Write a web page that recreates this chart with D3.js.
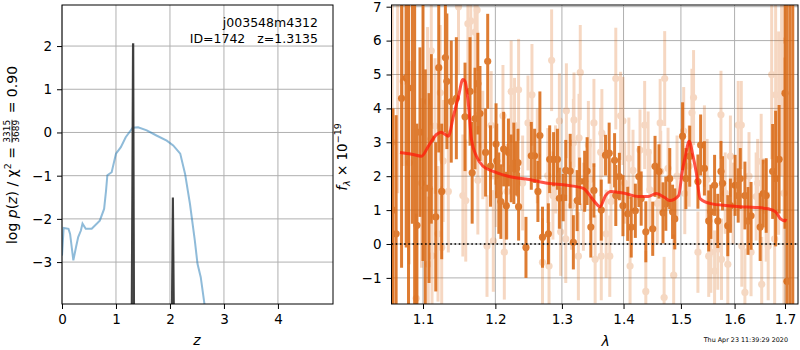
<!DOCTYPE html>
<html>
<head>
<meta charset="utf-8">
<script src="https://cdn.jsdelivr.net/npm/d3@7"></script>
<style>
body { margin: 0; background: #fff; }
text { font-family: "DejaVu Sans", sans-serif; }
</style>
</head>
<body>
<svg id="chart" width="800" height="350"></svg>
<script>
// ---- left panel: chi2 / p(z) ----
const zTicks = [0, 1, 2, 3, 4]
const logpTicks = [-3, -2, -1, 0, 1, 2]
const chiZ = [0.0, 0.03, 0.12, 0.15, 0.21, 0.26, 0.30, 0.35, 0.38, 0.44, 0.55, 0.70, 0.78, 0.815, 0.84, 0.92, 1.0, 1.09, 1.18, 1.31, 1.41, 1.57, 1.75, 1.94, 2.06, 2.19, 2.28, 2.37, 2.46, 2.51, 2.57, 2.64]
const chiLogP = [-2.85, -2.21, -2.23, -2.35, -2.96, -2.65, -2.42, -2.27, -2.11, -2.23, -2.23, -2.04, -1.77, -1.36, -0.99, -0.92, -0.49, -0.34, -0.11, 0.11, 0.12, 0.05, -0.07, -0.19, -0.30, -0.49, -0.96, -1.65, -2.50, -3.04, -3.35, -3.98]
const pzZ = [1.285, 1.310, 1.325, 1.340, 2.028, 2.048, 2.060, 2.080]
const pzLogP = [-4.5, 2.05, 2.05, -4.5, -4.5, -1.52, -1.52, -4.5]
const objName = 'j003548m4312'
const objInfo = 'ID=1742   z=1.3135'

// ---- right panel: spectrum ----
const lamTicks = [1.1, 1.2, 1.3, 1.4, 1.5, 1.6, 1.7]
const fluxTicks = [-1, 0, 1, 2, 3, 4, 5, 6, 7]
// [lambda, flux, err]
const darkPoints = [
  [1.061, 1.0, 3.0], [1.065, 0.3, 3.5], [1.072, 4.3, 5.0], [1.078, 4.9, 5.0], [1.081, 8.0, 10],
  [1.086, 4.6, 4.0], [1.089, 8.0, 10], [1.092, 0.55, 3.0], [1.096, 3.3, 2.5], [1.100, 7.5, 8.0],
  [1.103, 1.65, 3.5], [1.108, 1.65, 2.8], [1.111, 3.1, 2.5], [1.117, 0.8, 2.2], [1.121, 5.2, 2.5],
  [1.125, 1.55, 2.0], [1.130, 5.5, 2.2], [1.132, 4.8, 2.0], [1.138, 4.2, 1.8], [1.145, 4.3, 1.8],
  [1.157, 3.75, 1.6], [1.164, 4.5, 1.6], [1.167, 2.1, 1.5], [1.171, 3.7, 1.5], [1.175, 4.73, 1.5],
  [1.178, 3.85, 1.4], [1.186, 2.7, 1.3], [1.189, 5.39, 1.4], [1.193, 2.3, 1.2], [1.201, 2.95, 1.2],
  [1.202, 2.45, 1.1], [1.205, 1.5, 1.2], [1.208, 1.25, 1.1], [1.212, 2.8, 1.1], [1.216, 1.13, 1.0],
  [1.219, 2.7, 1.0], [1.223, 2.23, 1.0], [1.227, 2.38, 1.2], [1.231, 2.23, 0.8], [1.233, 2.4, 1.0],
  [1.234, 1.1, 1.0], [1.245, -0.1, 0.9], [1.253, 2.6, 1.0], [1.258, 2.6, 0.8], [1.263, 1.55, 0.9],
  [1.266, 3.2, 1.3], [1.270, 0.2, 0.9], [1.279, 0.3, 0.9], [1.281, 2.5, 1.0], [1.287, 2.5, 0.8],
  [1.293, 2.5, 0.9], [1.296, 1.35, 0.9], [1.302, 1.37, 0.7], [1.306, 2.17, 0.9], [1.313, 2.15, 1.1],
  [1.318, 0.05, 0.8], [1.324, 1.28, 0.9], [1.328, 1.85, 0.7], [1.336, 1.85, 0.9], [1.340, 2.15, 1.0],
  [1.346, 0.5, 0.9], [1.351, 1.58, 0.8], [1.363, 1.0, 0.9], [1.370, 2.62, 0.6], [1.376, 2.68, 0.9],
  [1.385, 2.47, 0.8], [1.387, 1.43, 0.9], [1.393, 1.99, 0.7], [1.399, 1.13, 0.9], [1.407, 0.89, 0.8],
  [1.413, 0.5, 0.9], [1.420, 0.98, 0.8], [1.426, 1.99, 0.9], [1.430, 1.34, 0.8], [1.438, 0.36, 0.9],
  [1.450, 0.45, 0.8], [1.454, 2.29, 0.9], [1.461, 2.14, 0.8], [1.468, 0.92, 0.9], [1.473, 1.19, 0.8],
  [1.480, 1.93, 0.9], [1.485, 0.95, 0.8], [1.489, 0.74, 0.9], [1.503, 3.18, 1.0], [1.509, 1.93, 0.9],
  [1.516, 2.59, 0.9], [1.531, 1.84, 0.8], [1.536, 2.92, 0.9], [1.543, 2.23, 0.8], [1.551, 0.68, 0.9],
  [1.555, 0.95, 0.8], [1.562, 1.73, 0.9], [1.568, 0.68, 0.8], [1.574, 2.14, 0.9], [1.577, 1.79, 0.8],
  [1.587, 0.54, 0.9], [1.592, 1.13, 0.8], [1.601, 1.73, 0.9], [1.607, 1.43, 0.8], [1.611, 1.93, 0.9],
  [1.620, 1.43, 1.0], [1.626, 0.68, 1.0], [1.632, 0.83, 1.0], [1.650, 0.5, 1.0], [1.656, 1.49, 1.0],
  [1.662, 1.43, 1.1], [1.675, 2.14, 1.4], [1.681, 1.93, 2.0], [1.688, 2.5, 1.6], [1.700, 4.45, 4.0],
  [1.704, -1.1, 9.0], [1.710, 8.0, 10], [1.716, 8.0, 10]
]
const lightPoints = [
  [1.060, 3.0, 6.0], [1.067, 7.5, 6.0], [1.074, 4.8, 2.5], [1.082, 2.4, 3.0], [1.091, -1.6, 2.5],
  [1.098, 1.8, 2.5], [1.106, 4.2, 2.2], [1.107, -0.6, 2.0], [1.111, 5.7, 2.2], [1.112, -0.35, 2.0],
  [1.116, 3.48, 2.0], [1.120, 0.3, 2.0], [1.123, 4.46, 2.0], [1.125, -0.1, 1.8], [1.127, 2.45, 1.8],
  [1.134, 1.55, 1.8], [1.148, 7.0, 2.0], [1.154, 1.43, 1.8], [1.158, 1.28, 1.8], [1.161, 6.5, 2.0],
  [1.165, 6.58, 2.0], [1.171, 6.25, 1.8], [1.174, 6.9, 1.8], [1.175, 1.88, 1.6], [1.182, 2.92, 1.6],
  [1.188, -0.06, 1.5], [1.194, 3.5, 1.6], [1.197, 0.09, 1.5], [1.200, 2.0, 1.5], [1.211, 3.78, 1.5],
  [1.213, -0.24, 1.4], [1.217, 1.55, 1.4], [1.223, 4.5, 1.5], [1.228, 3.5, 1.4], [1.234, 4.55, 1.5],
  [1.240, 1.8, 1.4], [1.248, 3.57, 1.4], [1.254, 4.4, 1.5], [1.262, 2.6, 1.4], [1.270, -0.54, 1.3],
  [1.278, 2.02, 1.4], [1.280, -0.65, 1.3], [1.284, 5.42, 1.5], [1.286, 1.43, 1.3], [1.290, 2.2, 1.3],
  [1.296, 3.63, 1.4], [1.298, 0.36, 1.3], [1.306, 0.15, 1.3], [1.307, 3.93, 1.4], [1.315, 1.13, 1.3],
  [1.318, 2.98, 1.3], [1.319, 3.66, 1.4], [1.326, -0.36, 1.3], [1.327, 3.13, 1.3], [1.329, 5.06, 1.4],
  [1.334, 1.10, 1.3], [1.342, 2.92, 1.3], [1.345, 1.9, 1.2], [1.351, 3.57, 1.3], [1.353, -0.45, 1.3],
  [1.362, 2.71, 1.3], [1.363, -0.36, 1.3], [1.364, 3.27, 1.3], [1.371, 0.3, 1.3], [1.377, -0.36, 1.2],
  [1.379, 1.25, 1.2], [1.387, 4.88, 1.5], [1.395, 3.78, 1.3], [1.399, 3.63, 1.3], [1.402, 1.8, 1.2],
  [1.409, 2.53, 1.2], [1.411, -0.65, 1.2], [1.416, 2.17, 1.2], [1.428, 2.77, 1.2], [1.436, 3.51, 1.3],
  [1.438, -1.4, 1.2], [1.442, 2.71, 1.2], [1.445, 1.6, 1.2], [1.458, 1.2, 1.2], [1.463, 3.57, 1.3],
  [1.464, 2.14, 1.2], [1.470, -1.58, 1.2], [1.471, 4.88, 1.4], [1.477, 2.23, 1.2], [1.487, -0.92, 1.2],
  [1.493, 2.0, 1.2], [1.505, 3.33, 1.3], [1.507, 1.49, 1.2], [1.515, 2.3, 1.2], [1.520, 3.87, 1.3],
  [1.523, 4.32, 1.4], [1.531, -0.24, 1.2], [1.543, 2.89, 1.2], [1.548, 1.9, 1.2], [1.551, -0.36, 1.2],
  [1.555, -0.24, 1.2], [1.562, -0.8, 1.2], [1.568, -0.15, 1.2], [1.574, 3.81, 1.3], [1.575, -0.45, 1.2],
  [1.582, 1.5, 1.2], [1.587, -0.6, 1.2], [1.592, 2.59, 1.2], [1.597, 1.2, 1.2], [1.607, 3.51, 1.3],
  [1.613, 3.51, 1.3], [1.614, -0.06, 1.2], [1.620, -1.43, 1.3], [1.628, 2.0, 1.3], [1.632, -0.24, 1.3],
  [1.642, 1.4, 1.3], [1.645, 1.8, 1.3], [1.652, 2.44, 1.4], [1.653, -1.19, 1.4], [1.662, 0.98, 1.5],
  [1.666, -0.06, 1.6], [1.673, 5.0, 2.5], [1.679, 0.15, 2.0], [1.681, 4.4, 2.8], [1.687, 3.27, 3.0],
  [1.693, 6.0, 4.0], [1.698, 1.5, 4.0]
]
const modelWave = [1.070, 1.085, 1.098, 1.107, 1.118, 1.124, 1.134, 1.141, 1.148, 1.154, 1.157, 1.162, 1.166, 1.173, 1.182, 1.196, 1.220, 1.250, 1.278, 1.308, 1.334, 1.342, 1.352, 1.361, 1.370, 1.379, 1.403, 1.425, 1.442, 1.456, 1.471, 1.480, 1.496, 1.502, 1.508, 1.515, 1.522, 1.528, 1.535, 1.555, 1.587, 1.611, 1.640, 1.666, 1.681, 1.691, 1.700, 1.702]
const modelFlux = [2.70, 2.65, 2.59, 2.88, 3.23, 3.30, 3.18, 3.77, 4.36, 4.85, 4.80, 4.06, 3.08, 2.59, 2.30, 2.15, 1.99, 1.90, 1.79, 1.73, 1.64, 1.49, 1.25, 1.10, 1.43, 1.55, 1.49, 1.40, 1.40, 1.49, 1.37, 1.28, 1.43, 2.10, 2.59, 3.03, 2.59, 2.10, 1.34, 1.19, 1.13, 1.10, 1.08, 1.04, 0.95, 0.74, 0.68, 0.74]
const timestamp = 'Thu Apr 23 11:39:29 2020'

const ORANGE = '#d9660f'
const GRID = '#b0b0b0'

const svg = d3.select('#chart')

const LP = { left: 62, right: 333, top: 5, bottom: 304 }
const RP = { left: 391.5, right: 798, top: 5, bottom: 304 }

const zx = d3.scaleLinear().domain([0, 5.02]).range([LP.left, LP.right])
const zy = d3.scaleLinear().domain([-3.97, 2.95]).range([LP.bottom, LP.top])
const lx = d3.scaleLog().domain([1.0591, 1.7268]).range([RP.left, RP.right])
const fy = d3.scaleLinear().domain([-1.77, 7.05]).range([RP.bottom, RP.top])

const defs = svg.append('defs')
defs.append('clipPath').attr('id', 'clipL').append('rect')
  .attr('x', LP.left).attr('y', LP.top).attr('width', LP.right - LP.left).attr('height', LP.bottom - LP.top)
defs.append('clipPath').attr('id', 'clipR').append('rect')
  .attr('x', RP.left).attr('y', RP.top).attr('width', RP.right - RP.left).attr('height', RP.bottom - RP.top)

function grid(g, xs, ys, xScale, yScale, P) {
  g.selectAll('.gx').data(xs).enter().append('line')
    .attr('x1', d => xScale(d)).attr('x2', d => xScale(d))
    .attr('y1', P.top).attr('y2', P.bottom)
    .attr('stroke', GRID).attr('stroke-width', 1)
  g.selectAll('.gy').data(ys).enter().append('line')
    .attr('x1', P.left).attr('x2', P.right)
    .attr('y1', d => yScale(d)).attr('y2', d => yScale(d))
    .attr('stroke', GRID).attr('stroke-width', 1)
}

function axes(xs, ys, xScale, yScale, P, xfmt) {
  const xa = svg.append('g').attr('transform', `translate(0,${P.bottom})`)
    .call(d3.axisBottom(xScale).tickValues(xs).tickSize(5).tickPadding(5).tickFormat(xfmt))
  const ya = svg.append('g').attr('transform', `translate(${P.left},0)`)
    .call(d3.axisLeft(yScale).tickValues(ys).tickSize(5).tickPadding(5).tickFormat(d3.format('d')))
  for (const a of [xa, ya]) {
    a.select('.domain').remove()
    a.selectAll('text').attr('font-size', 13.5).attr('fill', '#000').style('font-family', '"DejaVu Sans", sans-serif')
    a.selectAll('line').attr('stroke', '#000')
  }
  svg.append('rect').attr('x', P.left).attr('y', P.top)
    .attr('width', P.right - P.left).attr('height', P.bottom - P.top)
    .attr('fill', 'none').attr('stroke', '#000').attr('stroke-width', 1)
}

// ---- left panel ----
const gL = svg.append('g')
grid(gL, zTicks, logpTicks, zx, zy, LP)
const plotL = gL.append('g').attr('clip-path', 'url(#clipL)')

plotL.append('path')
  .datum(chiZ.map((z, i) => [z, chiLogP[i]]))
  .attr('d', d3.line().x(d => zx(d[0])).y(d => zy(d[1])))
  .attr('fill', 'none').attr('stroke', '#1f77b4').attr('stroke-opacity', 0.5).attr('stroke-width', 2)

plotL.append('path')
  .datum(pzZ.map((z, i) => [z, pzLogP[i]]))
  .attr('d', d3.line().x(d => zx(d[0])).y(d => zy(d[1])))
  .attr('fill', '#333').attr('fill-opacity', 0.85)
  .attr('stroke', '#333').attr('stroke-opacity', 0.9).attr('stroke-width', 1.5)

axes(zTicks, logpTicks, zx, zy, LP, d3.format('d'))

svg.append('text').attr('x', 318).attr('y', 27).attr('text-anchor', 'end')
  .attr('font-size', 12.5).text(objName)
svg.append('text').attr('x', 318).attr('y', 43).attr('text-anchor', 'end')
  .attr('font-size', 12.5).attr('xml:space', 'preserve').style('white-space', 'pre').text(objInfo)

svg.append('text').attr('x', zx(2.5)).attr('y', 345).attr('text-anchor', 'middle')
  .attr('font-size', 14).attr('font-style', 'italic').text('z')

// left y label with stacked fraction
{
  const g = svg.append('g').attr('transform', 'translate(17,155) rotate(-90)')
  const t1 = g.append('text').attr('font-size', 14)
  t1.append('tspan').text('log ')
  t1.append('tspan').attr('font-style', 'italic').text('p')
  t1.append('tspan').text('(')
  t1.append('tspan').attr('font-style', 'italic').text('z')
  t1.append('tspan').text(') / χ')
  t1.append('tspan').attr('font-size', 9.5).attr('dy', -6).text('2')
  t1.append('tspan').attr('dy', 6).attr('xml:space', 'preserve').style('white-space', 'pre').text(' = ')
  const w1 = t1.node().getComputedTextLength()
  const num = g.append('text').attr('font-size', 9).attr('text-anchor', 'middle').text('3315')
  const den = g.append('text').attr('font-size', 9).attr('text-anchor', 'middle').text('3689')
  const fw = Math.max(num.node().getComputedTextLength(), den.node().getComputedTextLength())
  const t3 = g.append('text').attr('font-size', 14).attr('xml:space', 'preserve').style('white-space', 'pre').text(' = 0.90')
  const w3 = t3.node().getComputedTextLength()
  const total = w1 + fw + 2 + w3
  const x0 = -total / 2
  t1.attr('x', x0)
  num.attr('x', x0 + w1 + fw / 2).attr('y', -7)
  den.attr('x', x0 + w1 + fw / 2).attr('y', 2)
  g.append('line').attr('x1', x0 + w1).attr('x2', x0 + w1 + fw)
    .attr('y1', -5).attr('y2', -5).attr('stroke', '#000').attr('stroke-width', 0.8)
  t3.attr('x', x0 + w1 + fw + 2)
}

// ---- right panel ----
const gR = svg.append('g')
grid(gR, lamTicks, fluxTicks, lx, fy, RP)
const plotR = gR.append('g').attr('clip-path', 'url(#clipR)')

function errorbars(data, opacity) {
  const g = plotR.append('g').attr('opacity', opacity)
  g.selectAll('line').data(data).enter().append('line')
    .attr('x1', d => lx(d[0])).attr('x2', d => lx(d[0]))
    .attr('y1', d => fy(d[1] - d[2])).attr('y2', d => fy(d[1] + d[2]))
    .attr('stroke', ORANGE).attr('stroke-width', 3)
  g.selectAll('circle').data(data).enter().append('circle')
    .attr('cx', d => lx(d[0])).attr('cy', d => fy(d[1]))
    .attr('r', 3.6).attr('fill', ORANGE)
}

errorbars(lightPoints, 0.25)
errorbars(darkPoints, 0.85)

plotR.append('line')
  .attr('x1', RP.left).attr('x2', RP.right).attr('y1', fy(0)).attr('y2', fy(0))
  .attr('stroke', '#000').attr('stroke-width', 1.6).attr('stroke-dasharray', '1.6,2.6')

plotR.append('path')
  .datum(modelWave.map((w, i) => [w, modelFlux[i]]))
  .attr('d', d3.line().curve(d3.curveMonotoneX).x(d => lx(d[0])).y(d => fy(d[1])))
  .attr('fill', 'none').attr('stroke', '#ff1a0a').attr('stroke-opacity', 0.75).attr('stroke-width', 3)

axes(lamTicks, fluxTicks, lx, fy, RP, d3.format('.1f'))

svg.append('text').attr('x', lx(1.37)).attr('y', 346).attr('text-anchor', 'middle')
  .attr('font-size', 14).attr('font-style', 'italic').text('λ')

{
  const g = svg.append('g').attr('transform', 'translate(347,157) rotate(-90)')
  const t = g.append('text').attr('font-size', 13.5).attr('text-anchor', 'middle')
  t.append('tspan').attr('font-style', 'italic').text('f')
  t.append('tspan').attr('font-style', 'italic').attr('font-size', 9.5).attr('dy', 3).text('λ')
  t.append('tspan').attr('dy', -3).attr('xml:space', 'preserve').style('white-space', 'pre').text(' × 10')
  t.append('tspan').attr('font-size', 9.5).attr('dy', -6).text('−19')
}

svg.append('text').attr('x', 788).attr('y', 342).attr('text-anchor', 'end')
  .attr('font-size', 6.4).text(timestamp)
</script>
</body>
</html>
